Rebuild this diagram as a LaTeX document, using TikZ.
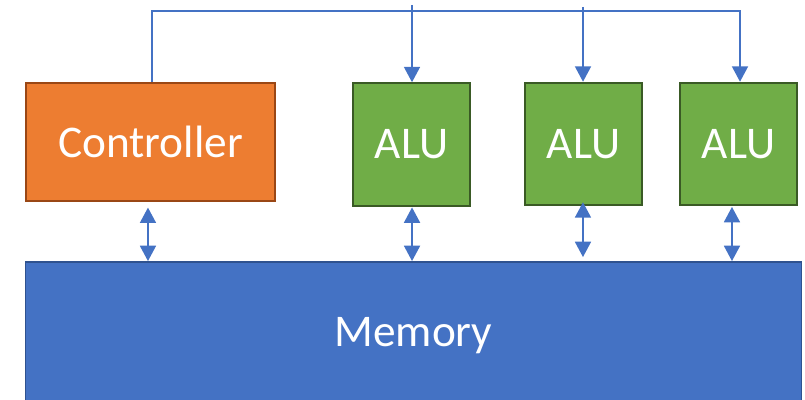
\documentclass[tikz,border=0pt]{standalone}
\usepackage{fontspec}
\setmainfont{Carlito}
\usepackage{tikz}
\usetikzlibrary{shapes, arrows.meta, positioning, calc}

\definecolor{ctrlfill}{HTML}{ED7D31}
\definecolor{ctrledge}{HTML}{9A4715}
\definecolor{alufill}{HTML}{70AD47}
\definecolor{aluedge}{HTML}{3A5A25}
\definecolor{memfill}{HTML}{4472C4}
\definecolor{memedge}{HTML}{2F528F}
\definecolor{wire}{HTML}{4472C4}

\begin{document}
\begin{tikzpicture}[x=0.75pt, y=-0.75pt,
	box/.style={draw, line width=1.4pt, text=white, inner sep=0pt,
		font=\fontsize{34}{40}\selectfont},
	ctrlbox/.style={box, fill=ctrlfill, draw=ctrledge, minimum width=187pt, minimum height=89pt},
	alubox/.style={box, fill=alufill, draw=aluedge, minimum width=88pt, minimum height=92pt},
	membox/.style={box, fill=memfill, draw=memedge, minimum width=582pt, minimum height=111pt},
	link/.style={draw=wire, line width=1.2pt},
	tip/.style={-{Triangle[width=12pt,length=11.5pt]}},
	both/.style={{Triangle[width=12pt,length=11.5pt]}-{Triangle[width=12pt,length=11.5pt]}}]
	\clip (0,0) rectangle (805,399);
	\node[ctrlbox] (ctrl) at (150.5,142) {Controller};
	\node[alubox] (alu1) at (411.5,144.5) {ALU};
	\node[alubox] (alu2) at (583.5,144) {ALU};
	\node[alubox] (alu3) at (738.5,144) {ALU};
	\node[membox] (mem) at (413.5,336) {Memory};
	% control lines from the top
	\coordinate (busend) at (740,11);
	\coordinate (in1) at (412,5);
	\coordinate (in2) at (583,7);
	\draw[link, tip] ([xshift=1.2pt]ctrl.north) |- (busend) -- (alu3.north -| busend);
	\draw[link, tip] (in1) -- (alu1.north -| in1);
	\draw[link, tip] (in2) -- (alu2.north -| in2);
	% memory access
	\draw[link, both] ([xshift=-1.9pt, yshift=-4pt]ctrl.south) -- ([xshift=-1.9pt]ctrl.south |- mem.north);
	\draw[link, both] ([xshift=0.4pt, yshift=-0.5pt]alu1.south) -- ([xshift=0.4pt]alu1.south |- mem.north);
	\draw[link, both] ([xshift=-0.4pt, yshift=3pt]alu2.south) -- ([xshift=-0.4pt, yshift=3pt]alu2.south |- mem.north);
	\draw[link, both] ([xshift=-4.9pt, yshift=-0.5pt]alu3.south) -- ([xshift=-4.9pt]alu3.south |- mem.north);
\end{tikzpicture}
\end{document}
